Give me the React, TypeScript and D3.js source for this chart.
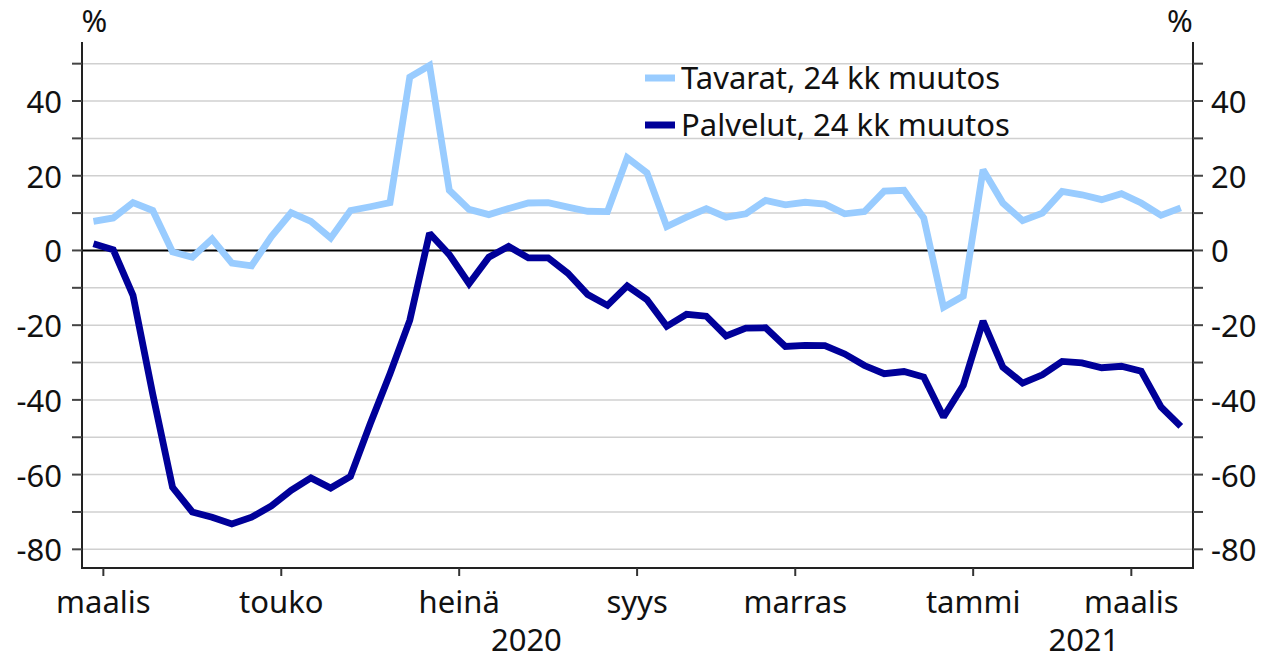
import React from "react";
import * as d3 from "d3";

const tavarat: number[] = [
  7.8, 8.7, 12.8, 10.7, -0.4, -1.8, 3.1, -3.4, -4.1, 3.7,
  10.1, 7.8, 3.3, 10.7, 11.7, 12.8, 46.4, 49.5, 16.1, 11.0,
  9.6, 11.2, 12.7, 12.8, 11.6, 10.5, 10.4, 24.8, 20.8, 6.4,
  8.9, 11.2, 8.9, 9.8, 13.4, 12.2, 12.9, 12.4, 9.8, 10.4,
  15.9, 16.1, 8.7, -15.2, -12.2, 21.6, 12.7, 8.0, 10.0, 15.8,
  14.9, 13.6, 15.2, 12.7, 9.4, 11.4,
];

const palvelut: number[] = [
  1.8, 0.2, -12.0, -38.5, -63.4, -70.0, -71.4, -73.2, -71.4, -68.4,
  -64.2, -60.9, -63.6, -60.5, -46.4, -33.0, -18.7, 4.6, -1.1, -8.9,
  -1.8, 1.1, -2.0, -2.0, -6.1, -11.8, -14.7, -9.5, -13.2, -20.3,
  -17.1, -17.6, -22.9, -20.8, -20.7, -25.7, -25.4, -25.5, -27.7, -30.8,
  -33.0, -32.4, -33.9, -44.6, -36.1, -18.9, -31.2, -35.5, -33.3, -29.7,
  -30.1, -31.4, -31.0, -32.3, -41.9, -47.1,
];

const monthLabels: string[] = ["maalis", "touko", "heinä", "syys", "marras", "tammi", "maalis"];
const monthStartWeek: number[] = [1, 10, 19, 28, 36, 45, 53];
const yearLabels: string[] = ["2020", "2021"];
const yearCenterWeek: number[] = [21.9, 50.1];

const yLabelTicks: number[] = [40, 20, 0, -20, -40, -60, -80];
const yAllTicks: number[] = d3.range(-80, 51, 10);

const seriesNames: string[] = ["Tavarat, 24 kk muutos", "Palvelut, 24 kk muutos"];
const seriesColors: string[] = ["#99CCFF", "#000099"];

const W = 1264;
const H = 660;
const left = 82;
const right = 1193;
const top = 42;
const bottom = 568;
const FONT = "'Noto Sans', sans-serif";
const FS = 31;

export default function App() {
  const x = d3.scaleLinear().domain([-0.58, 55.62]).range([left, right]);
  const y = d3.scaleLinear().domain([-85, 55.8]).range([bottom, top]);
  const line = d3
    .line<number>()
    .x((_, i) => x(i))
    .y((d) => y(d));

  const series = [tavarat, palvelut];

  return (
    <svg
      width={W}
      height={H}
      style={{ position: "absolute", left: 0, top: 0, background: "#fff" }}
      fontFamily={FONT}
    >
      <rect x={0} y={0} width={W} height={H} fill="#fff" />
      {/* gridlines */}
      {yAllTicks
        .filter((t) => t !== 0)
        .map((t) => (
          <line key={"g" + t} x1={left} x2={right} y1={y(t)} y2={y(t)} stroke="#d0d0d0" strokeWidth={1.5} />
        ))}
      {/* zero line */}
      <line x1={left} x2={right} y1={y(0)} y2={y(0)} stroke="#000" strokeWidth={2} />

      {/* series */}
      {series.map((s, k) => (
        <path
          key={"s" + k}
          d={line(s) || ""}
          fill="none"
          stroke={seriesColors[k]}
          strokeWidth={6.8}
          strokeLinejoin="miter"
          strokeMiterlimit={2}
        />
      ))}

      {/* axes frame */}
      <line x1={left} x2={left} y1={top} y2={bottom} stroke="#222" strokeWidth={2} />
      <line x1={right} x2={right} y1={top} y2={bottom} stroke="#222" strokeWidth={2} />
      <line x1={left - 1} x2={right + 1} y1={bottom} y2={bottom} stroke="#222" strokeWidth={2} />

      {/* y ticks */}
      {yAllTicks.map((t) => (
        <g key={"yt" + t}>
          <line x1={left - 10} x2={left} y1={y(t)} y2={y(t)} stroke="#444" strokeWidth={2} />
          <line x1={right} x2={right + 10} y1={y(t)} y2={y(t)} stroke="#444" strokeWidth={2} />
        </g>
      ))}
      {yLabelTicks.map((t) => (
        <g key={"yl" + t} fontSize={FS} fill="#111">
          <text x={62} y={y(t)} textAnchor="end" dominantBaseline="central">
            {t < 0 ? "-" + Math.abs(t) : String(t)}
          </text>
          <text x={1211} y={y(t)} textAnchor="start" dominantBaseline="central">
            {t < 0 ? "-" + Math.abs(t) : String(t)}
          </text>
        </g>
      ))}
      <text x={94.5} y={31.5} textAnchor="middle" fontSize={FS} fill="#111">%</text>
      <text x={1180} y={31.5} textAnchor="middle" fontSize={FS} fill="#111">%</text>

      {/* x ticks */}
      {monthStartWeek.map((w, i) => (
        <g key={"xt" + i}>
          <line x1={x(w - 0.5)} x2={x(w - 0.5)} y1={bottom} y2={bottom + 8} stroke="#333" strokeWidth={2} />
          <text x={x(w - 0.5)} y={613} textAnchor="middle" fontSize={FS} fill="#111">
            {monthLabels[i]}
          </text>
        </g>
      ))}
      {yearLabels.map((lab, i) => (
        <text key={"yr" + i} x={x(yearCenterWeek[i])} y={651} textAnchor="middle" fontSize={FS} fill="#111">
          {lab}
        </text>
      ))}

      {/* legend */}
      {seriesNames.map((n, k) => (
        <g key={"lg" + k}>
          <line x1={645} x2={675} y1={78 + k * 47} y2={78 + k * 47} stroke={seriesColors[k]} strokeWidth={7} />
          <text x={681} y={89 + k * 47} fontSize={FS} fill="#111">
            {n}
          </text>
        </g>
      ))}
    </svg>
  );
}
